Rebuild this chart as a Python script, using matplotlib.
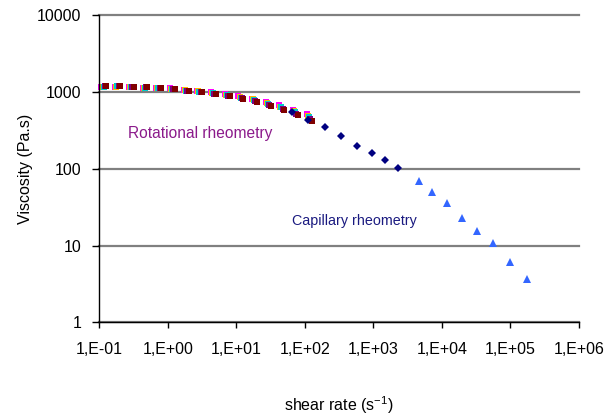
import matplotlib
matplotlib.use("Agg")
import matplotlib.pyplot as plt
from matplotlib.ticker import FixedLocator, NullLocator

plt.rcParams['font.family'] = ['Liberation Sans', 'DejaVu Sans']
plt.rcParams['mathtext.fontset'] = 'custom'
plt.rcParams['mathtext.rm'] = 'Liberation Sans'
plt.rcParams['mathtext.it'] = 'Liberation Sans:italic'
plt.rcParams['mathtext.default'] = 'regular'

# ---- data ----
rot_magenta_x = [0.107, 0.17, 0.269, 0.425, 0.675, 1.07, 1.7, 2.69, 4.25, 6.75, 10.7, 17.0, 26.9, 42.5, 67.5, 107]
rot_magenta_y = [1140, 1155, 1142, 1129, 1120, 1108, 1054, 1034, 986, 935, 874, 818, 734, 668, 587, 513]
rot_yellow_x = [0.111, 0.176, 0.278, 0.44, 0.699, 1.11, 1.76, 2.78, 4.4, 6.99, 11.1, 17.6, 27.8, 44.0, 69.9, 111]
rot_yellow_y = [1150, 1165, 1145, 1125, 1115, 1100, 1045, 1020, 970, 920, 855, 800, 715, 645, 565, 490]
rot_cyan_x = [0.115, 0.182, 0.288, 0.455, 0.722, 1.15, 1.82, 2.88, 4.55, 7.22, 11.5, 18.2, 28.8, 45.5, 72.2, 115]
rot_cyan_y = [1160, 1175, 1150, 1130, 1115, 1098, 1040, 1010, 960, 908, 842, 784, 700, 628, 545, 475]
rot_purple_x = [0.12, 0.19, 0.3, 0.475, 0.754, 1.2, 1.9, 3.0, 4.75, 7.54, 12.0, 19.0, 30.0, 47.5, 75.4, 120]
rot_purple_y = [1175, 1190, 1165, 1140, 1120, 1098, 1036, 1000, 948, 893, 825, 762, 675, 602, 515, 445]
rot_maroon_x = [0.126, 0.2, 0.316, 0.5, 0.794, 1.26, 2.0, 3.16, 5.0, 7.94, 12.6, 20.0, 31.6, 50.0, 79.4, 126]
rot_maroon_y = [1175, 1190, 1165, 1140, 1120, 1097, 1033, 994, 939, 882, 809, 744, 655, 581, 493, 417]

cap_diamond_x = [64.3, 111, 198, 336, 577, 957, 1486, 2280]
cap_diamond_y = [551, 433, 354, 266, 200, 161, 131, 103]
cap_triangle_x = [4571, 7260, 11750, 19500, 32350, 55550, 97700, 177500]
cap_triangle_y = [70.2, 50.0, 36.0, 22.7, 15.5, 10.7, 6.19, 3.72]

x_ticks = [1e-1, 1e0, 1e1, 1e2, 1e3, 1e4, 1e5, 1e6]
x_tick_labels = ['1,E-01', '1,E+00', '1,E+01', '1,E+02', '1,E+03', '1,E+04', '1,E+05', '1,E+06']
y_ticks = [1, 10, 100, 1000, 10000]
y_tick_labels = ['1', '10', '100', '1000', '10000']

# ---- figure ----
fig = plt.figure(figsize=(6.07, 4.15), dpi=100)
ax = fig.add_axes([0.1639, 0.2229, 0.7895, 0.7410])
ax.set_xscale('log')
ax.set_yscale('log')
ax.set_xlim(1e-1, 1e6)
ax.set_ylim(1, 10000)

sq = dict(marker='s', markersize=4.6, linestyle='none', markeredgewidth=0, clip_on=False)
series = [
    (rot_magenta_x, rot_magenta_y, '#FF00FF'),
    (rot_yellow_x, rot_yellow_y, '#FFB800'),
    (rot_cyan_x, rot_cyan_y, '#00CCCC'),
    (rot_purple_x, rot_purple_y, '#800080'),
    (rot_maroon_x, rot_maroon_y, '#800000'),
]
for xs, ys, c in series:
    ax.plot(xs, ys, color=c, zorder=3, **sq)

ax.plot(cap_diamond_x, cap_diamond_y, marker='D', markersize=4.0, linestyle='none',
        color='#000080', markeredgewidth=0, zorder=4, clip_on=False)
ax.plot(cap_triangle_x, cap_triangle_y, marker='^', markersize=5.2, linestyle='none',
        color='#3366FF', markeredgewidth=0, zorder=4, clip_on=False)

# axes styling
for s in ['top', 'right']:
    ax.spines[s].set_visible(False)
for s in ['left', 'bottom']:
    ax.spines[s].set_color('black')
    ax.spines[s].set_linewidth(1.0)
    ax.spines[s].set_zorder(5)

ax.xaxis.set_major_locator(FixedLocator(x_ticks))
ax.xaxis.set_minor_locator(NullLocator())
ax.set_xticklabels(x_tick_labels)
ax.yaxis.set_major_locator(FixedLocator(y_ticks))
ax.yaxis.set_minor_locator(NullLocator())
ax.set_yticklabels(y_tick_labels)

ax.tick_params(axis='x', direction='out', length=4, width=1.0, pad=10, labelsize=11.5, colors='black')
ax.tick_params(axis='y', direction='out', length=5, width=1.0, pad=8, labelsize=11.5, colors='black')

ax.grid(axis='y', which='major', color='#808080', linewidth=1.6)
ax.set_axisbelow(True)
for gl in ax.yaxis.get_gridlines():
    gl.set_clip_on(False)

ax.set_xlabel('shear rate (s$^{-1}$)', fontsize=11.5, labelpad=27)
ax.set_ylabel('Viscosity (Pa.s)', fontsize=11.5, labelpad=3)

ax.text(0.0595, 0.613, 'Rotational rheometry', transform=ax.transAxes,
        fontsize=11.2, color='#8B1A8B', ha='left', va='center')
ax.text(0.402, 0.330, 'Capillary rheometry', transform=ax.transAxes,
        fontsize=10.3, color='#1A1A80', ha='left', va='center')

fig.savefig('out.png', dpi=100)
